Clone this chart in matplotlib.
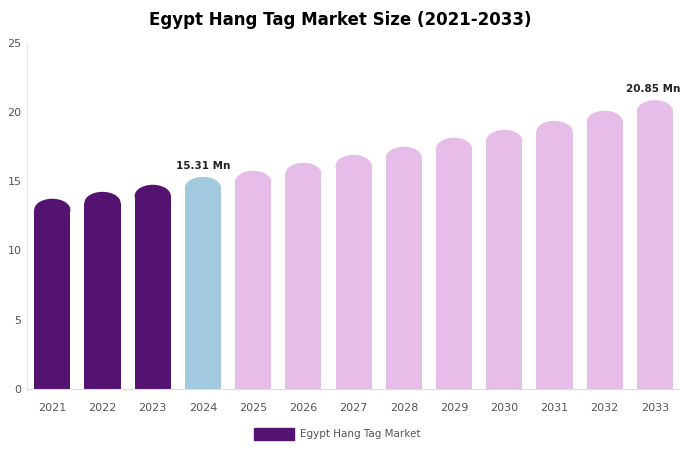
import matplotlib.pyplot as plt
from matplotlib.patches import Ellipse

years = ["2021", "2022", "2023", "2024", "2025", "2026", "2027",
         "2028", "2029", "2030", "2031", "2032", "2033"]
values = [13.73, 14.23, 14.74, 15.31, 15.75, 16.33, 16.9,
          17.49, 18.14, 18.71, 19.36, 20.09, 20.85]
colors = ["#541271"] * 3 + ["#a3c9de"] + ["#e6bce9"] * 9
labels = {3: "15.31 Mn", 12: "20.85 Mn"}

fig = plt.figure(figsize=(6.8, 4.5), dpi=100)
ax = fig.add_axes([0.04, 0.136, 0.96, 0.769])

w = 0.72
cap = 1.6
for i, (v, c) in enumerate(zip(values, colors)):
    ax.bar(i, v - cap / 2, width=w, color=c, linewidth=0)
    ax.add_patch(Ellipse((i, v - cap / 2), w, cap, color=c, linewidth=0))
    if i in labels:
        ax.text(i - (0.04 if i == 12 else 0), v + 0.45, labels[i],
                ha="center", va="bottom",
                fontsize=7.5, fontweight="bold", color="#222222")

ax.set_xlim(-0.5, 12.5)
ax.set_ylim(0, 25)
ax.set_xticks(range(len(years)))
ax.set_xticklabels(years)
ax.set_yticks([0, 5, 10, 15, 20, 25])
ax.tick_params(axis="both", length=0, labelsize=8, colors="#555555")
ax.tick_params(axis="x", pad=10)
ax.tick_params(axis="y", pad=4)
for s in ["top", "right"]:
    ax.spines[s].set_visible(False)
ax.spines["left"].set_color("#e6e6e6")
ax.spines["bottom"].set_color("#dddddd")

fig.suptitle("Egypt Hang Tag Market Size (2021-2033)", y=0.975,
             fontsize=12, fontweight="bold")
fig.patches.append(plt.Rectangle((0.374, 0.022), 0.058, 0.027,
                                 transform=fig.transFigure, color="#541271"))
fig.text(0.441, 0.036, "Egypt Hang Tag Market", fontsize=7.5,
         color="#555555", va="center")

fig.savefig("out.png")
